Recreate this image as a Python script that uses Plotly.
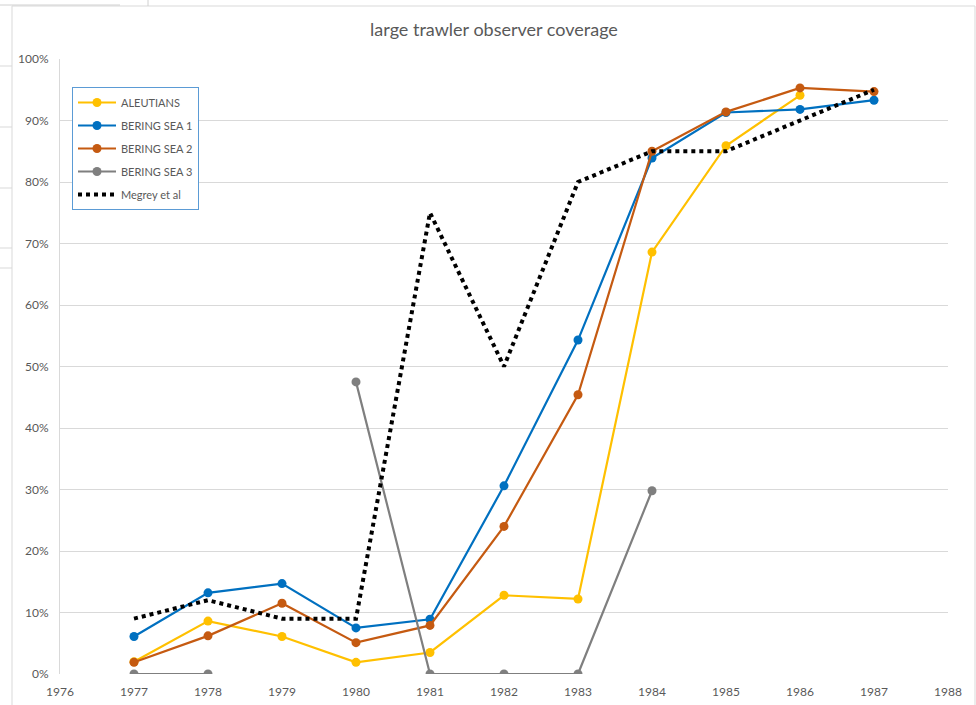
import plotly.graph_objects as go

years = [1977, 1978, 1979, 1980, 1981, 1982, 1983, 1984, 1985, 1986, 1987]

aleutians = [0.020, 0.086, 0.061, 0.019, 0.035, 0.128, 0.122, 0.686, 0.859, 0.941, None]
bering1 = [0.061, 0.132, 0.147, 0.075, 0.089, 0.306, 0.543, 0.839, 0.913, 0.918, 0.933]
bering2 = [0.019, 0.062, 0.115, 0.051, 0.079, 0.240, 0.454, 0.850, 0.914, 0.953, 0.947]
bering3 = [0.0, 0.0, None, 0.475, 0.0, 0.0, 0.0, 0.298, None, None, None]
megrey = [0.09, 0.12, 0.09, 0.09, 0.75, 0.50, 0.80, 0.85, 0.85, 0.90, 0.95]

series = [
    ("ALEUTIANS", aleutians, "#FFC000"),
    ("BERING SEA 1", bering1, "#0070C0"),
    ("BERING SEA 2", bering2, "#C55A11"),
    ("BERING SEA 3", bering3, "#7F7F7F"),
]

FONT = "Lato, Carlito, Calibri, sans-serif"
TXT = "#595959"

fig = go.Figure()
for i, (name, vals, col) in enumerate(series):
    fig.add_trace(go.Scatter(
        x=years, y=vals, name=name, mode="lines+markers",
        line=dict(color=col, width=2.2),
        marker=dict(color=col, size=9),
        connectgaps=False, legendgroup=name,
    ))
fig.add_trace(go.Scatter(
    x=years, y=megrey, name="Megrey et al", mode="lines",
    line=dict(color="#000000", width=4, dash="dot"),
    legendgroup="megrey",
))

# plot area: x 60..948 px, y 59..674 px
W, H = 976, 705
L, R, T, B = 60, 28, 59, 31
pw, ph = W - L - R, H - T - B


def px(x):
    return (x - L) / pw


def py(y):
    return (H - B - y) / ph


shapes = [
    # chart area border
    dict(type="rect", xref="paper", yref="paper", x0=px(12), x1=px(975),
         y0=py(712), y1=py(6), line=dict(color="#d9d9d9", width=1), layer="below"),
    # spreadsheet remnants
    dict(type="line", xref="paper", yref="paper", x0=px(0), x1=px(120),
         y0=py(5), y1=py(5), line=dict(color="#d0d0d0", width=1)),
    dict(type="line", xref="paper", yref="paper", x0=px(148), x1=px(148),
         y0=py(0), y1=py(6), line=dict(color="#d0d0d0", width=1)),
]
for yy in [66, 127, 188, 248, 268]:
    shapes.append(dict(type="line", xref="paper", yref="paper", x0=px(0), x1=px(12),
                       y0=py(yy), y1=py(yy), line=dict(color="#d9d9d9", width=1)))

fig.update_layout(
    width=W, height=H,
    margin=dict(l=L, r=R, t=T, b=B, pad=0),
    paper_bgcolor="white", plot_bgcolor="white",
    font=dict(family=FONT, color=TXT, size=12),
    title=dict(text="large trawler observer coverage", x=494 / W, xanchor="center",
               y=1 - 30 / H, yanchor="middle", yref="container",
               font=dict(family=FONT, size=18, color=TXT)),
    xaxis=dict(range=[1976, 1988], dtick=1, tick0=1976, showgrid=False, zeroline=False,
               showline=False, ticks="", ticklen=0, ticklabelstandoff=9, automargin=False,
               tickfont=dict(size=12, color=TXT)),
    yaxis=dict(range=[0, 1], dtick=0.1, tickformat=".0%", showgrid=True, gridcolor="#d9d9d9",
               gridwidth=1, zeroline=False, showline=True, linecolor="#d9d9d9", linewidth=1,
               ticks="", ticklen=0, ticklabelstandoff=8, automargin=False,
               tickfont=dict(size=12, color=TXT)),
    legend=dict(x=px(72), y=py(87), xanchor="left", yanchor="top",
                bgcolor="white", bordercolor="#5B9BD5", borderwidth=1,
                font=dict(size=11, color=TXT), tracegroupgap=4, itemwidth=38),
    shapes=shapes,
    showlegend=True,
)

fig.write_html("out.html", config={"displayModeBar": False},
               post_script="document.body.style.margin='0px';document.documentElement.style.margin='0px';")
